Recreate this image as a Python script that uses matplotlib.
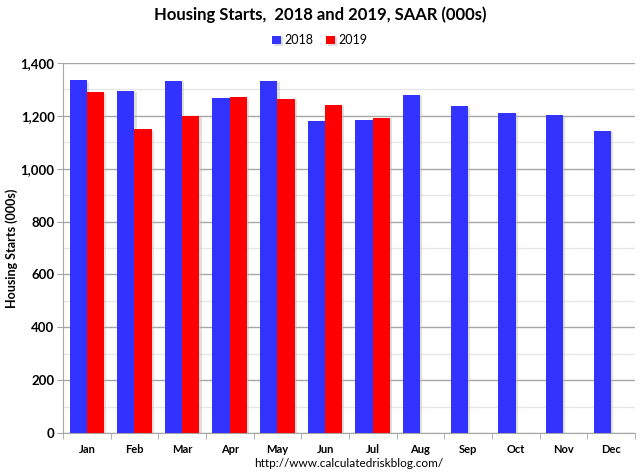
import matplotlib
matplotlib.use("Agg")
import matplotlib.pyplot as plt
import matplotlib.patheffects as pe
import numpy as np
from matplotlib.ticker import MultipleLocator, FuncFormatter

months = ["Jan", "Feb", "Mar", "Apr", "May", "Jun", "Jul", "Aug", "Sep", "Oct", "Nov", "Dec"]
starts_2018 = [1334, 1295, 1332, 1266, 1332, 1179, 1184, 1280, 1236, 1211, 1202, 1143]
starts_2019 = [1290, 1149, 1200, 1270, 1264, 1241, 1192]

plt.rcParams['font.family'] = ['Lato', 'DejaVu Sans']

fig = plt.figure(figsize=(6.4, 4.74), dpi=100)
ax = fig.add_axes([0.0984, 0.0865, 0.8936, 0.7805])

x = np.arange(len(months))
w = 0.363
shadow = [pe.SimplePatchShadow(offset=(1.5, -1), shadow_rgbFace='#BBBBBB', alpha=0.45), pe.Normal()]
b1 = ax.bar(x - w / 2, starts_2018, width=w, color='#3333FF', label='2018', zorder=3)
b2 = ax.bar(np.arange(len(starts_2019)) + w / 2, starts_2019, width=w, color='#FF0000', label='2019', zorder=3)
for b in list(b1) + list(b2):
    b.set_path_effects(shadow)

ax.set_xlim(-0.5, 11.5)
ax.set_ylim(0, 1400)
ax.yaxis.set_major_locator(MultipleLocator(200))
ax.yaxis.set_minor_locator(MultipleLocator(100))
ax.yaxis.set_major_formatter(FuncFormatter(lambda v, p: f"{int(v):,}"))
ax.grid(axis='y', which='major', color='#A6A6A6', linewidth=1.0, zorder=0)
ax.grid(axis='y', which='minor', color='#E6E6E6', linewidth=1.0, zorder=0)
ax.set_axisbelow(True)

ax.set_xticks(x)
ax.set_xticklabels(months, fontsize=8, fontweight='bold')
ax.set_xticks(np.arange(-0.5, 12.0, 1.0), minor=True)
ax.tick_params(axis='x', which='major', length=0, pad=8)
ax.tick_params(axis='x', which='minor', length=4, color='#A6A6A6', direction='out')
ax.tick_params(axis='y', which='major', length=4, color='#A6A6A6', labelsize=9.5, pad=2)
ax.tick_params(axis='y', which='minor', length=0)
for lab in ax.get_yticklabels():
    lab.set_fontweight('bold')

for s in ['top', 'right']:
    ax.spines[s].set_visible(False)
for s in ['left', 'bottom']:
    ax.spines[s].set_color('#A6A6A6')

ax.set_ylabel("Housing Starts (000s)", fontsize=9, fontweight='bold')
ax.yaxis.set_label_coords(-0.079, 0.5)

fig.text(0.5, 0.968, "Housing Starts,  2018 and 2019, SAAR (000s)", ha='center', va='center',
         fontsize=12, fontweight='bold')
fig.legend(handles=[b1, b2], labels=['2018', '2019'], loc='center', bbox_to_anchor=(0.5, 0.915),
           ncol=2, frameon=False, fontsize=9, handlelength=0.7, handleheight=0.7,
           handletextpad=0.3, columnspacing=1.0)
fig.text(0.545, 0.022, "http://www.calculatedriskblog.com/", ha='center', va='center', fontsize=8.5)

fig.savefig("out.png", dpi=100)
